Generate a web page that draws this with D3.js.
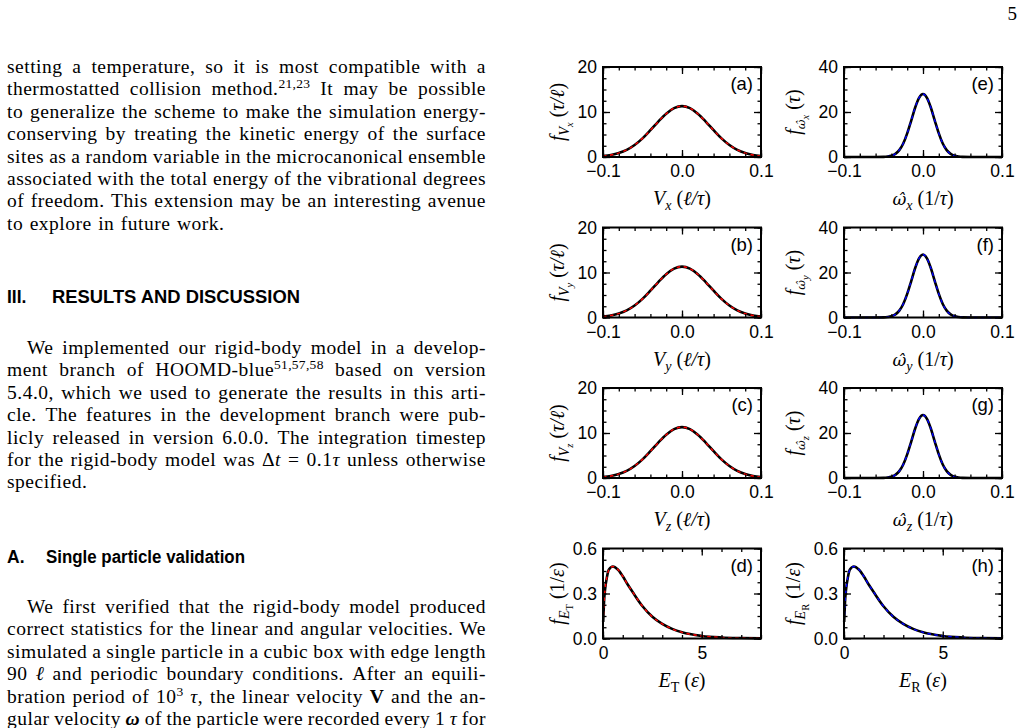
<!DOCTYPE html>
<html>
<head>
<meta charset="utf-8">
<script src="https://cdn.jsdelivr.net/npm/d3@7"></script>
<style>
body { margin: 0; background: #fff; }
svg { display: block; }
</style>
</head>
<body>
<svg id="page" width="1029" height="728"></svg>
<script>
// values
var velGrid = [-0.1, -0.09, -0.08, -0.07, -0.06, -0.05, -0.04, -0.03, -0.02, -0.01, 0,
    0.01, 0.02, 0.03, 0.04, 0.05, 0.06, 0.07, 0.08, 0.09, 0.1]
var linearPdf = [0.2, 0.44, 0.87, 1.58, 2.66, 4.14, 5.95, 7.87, 9.62, 10.86, 11.3,
    10.86, 9.62, 7.87, 5.95, 4.14, 2.66, 1.58, 0.87, 0.44, 0.2]

var omegaGrid = [-0.1, -0.08, -0.06, -0.05, -0.045, -0.04, -0.035, -0.03, -0.025, -0.02, -0.015, -0.01, -0.005, 0,
    0.005, 0.01, 0.015, 0.02, 0.025, 0.03, 0.035, 0.04, 0.045, 0.05, 0.06, 0.08, 0.1]
var angularPdf = [0, 0, 0, 0.06, 0.19, 0.54, 1.37, 3.05, 6.0, 10.5, 16.1, 21.9, 26.3, 28,
    26.3, 21.9, 16.1, 10.5, 6.0, 3.05, 1.37, 0.54, 0.19, 0.06, 0, 0, 0]

var energyGrid = [0.01, 0.05, 0.1, 0.2, 0.3, 0.5, 0.75, 1, 1.25, 1.5, 2, 2.5, 3, 3.5, 4, 5, 6, 7, 8]
var energyPdf = [0.11, 0.24, 0.32, 0.41, 0.46, 0.48, 0.46, 0.415, 0.36, 0.31, 0.215, 0.145, 0.097, 0.064, 0.041, 0.017, 0.007, 0.003, 0.001]

var panelTags = ["(a)", "(b)", "(c)", "(d)", "(e)", "(f)", "(g)", "(h)"]
var linTicksX = [-0.1, 0, 0.1], linTicksY = [0, 10, 20]
var angTicksY = [0, 20, 40]
var enTicksX = [0, 5], enTicksY = [0, 0.3, 0.6]

var para1 = [
    "setting a temperature, so it is most compatible with a",
    "thermostatted collision method.^{21,23} It may be possible",
    "to generalize the scheme to make the simulation energy-",
    "conserving by treating the kinetic energy of the surface",
    "sites as a random variable in the microcanonical ensemble",
    "associated with the total energy of the vibrational degrees",
    "of freedom. This extension may be an interesting avenue",
    "to explore in future work."]
var para2 = [
    "We implemented our rigid-body model in a develop-",
    "ment branch of HOOMD-blue^{51,57,58} based on version",
    "5.4.0, which we used to generate the results in this arti-",
    "cle. The features in the development branch were pub-",
    "licly released in version 6.0.0. The integration timestep",
    "for the rigid-body model was Δ$t$ = 0.1$τ$ unless otherwise",
    "specified."]
var para3 = [
    "We first verified that the rigid-body model produced",
    "correct statistics for the linear and angular velocities. We",
    "simulated a single particle in a cubic box with edge length",
    "90 $ℓ$ and periodic boundary conditions. After an equili-",
    "bration period of 10^{3} $τ$, the linear velocity *V* and the an-",
    "gular velocity ~ω~ of the particle were recorded every 1 $τ$ for"]

var serif = "'Liberation Serif', 'DejaVu Serif', serif"
var sans = "'Liberation Sans', Arial, sans-serif"
var svg = d3.select("#page")

svg.append("text")
    .attr("x", 1017).attr("y", 20)
    .attr("text-anchor", "end")
    .attr("font-family", serif).attr("font-size", 19)
    .text("5")

// ---- body text, justified word by word ----
var left = 7, right = 486, lh = 22.4

function addWord(g, word) {
    var t = g.append("text")
        .attr("font-family", serif).attr("font-size", 19.5)
        .attr("letter-spacing", 0.5)
    var raised = false
    word.split(/(\^\{[^}]*\}|\*[^*]+\*|~[^~]+~|\$[^$]+\$)/).forEach(function (p) {
        if (!p) return
        var s = t.append("tspan")
        if (p[0] == "^") {
            s.text(p.slice(2, -1)).attr("font-size", 13.5).attr("dy", -7).attr("letter-spacing", 0.3)
            raised = true
            return
        }
        if (raised) { s.attr("dy", 7); raised = false }
        if (p[0] == "*") s.text(p.slice(1, -1)).attr("font-weight", "bold")
        else if (p[0] == "~") s.text(p.slice(1, -1)).attr("font-weight", "bold").attr("font-style", "italic")
        else if (p[0] == "$") s.text(p.slice(1, -1)).attr("font-style", "italic")
        else s.text(p)
    })
    return t
}

function paragraph(lines, y0, indent, ends) {
    lines.forEach(function (line, i) {
        var g = svg.append("g")
        var words = line.split(" ").map(function (w) { return addWord(g, w) })
        var widths = words.map(function (t) { return t.node().getComputedTextLength() })
        var x = left + (i == 0 ? indent : 0)
        var gap = (ends && i == lines.length - 1) ? 6.5 : (right - x - d3.sum(widths)) / (words.length - 1)
        words.forEach(function (t, j) {
            t.attr("x", x).attr("y", y0 + i * lh)
            x += widths[j] + gap
        })
    })
}

function heading(num, title, y, x2, len) {
    svg.append("text").attr("x", left).attr("y", y)
        .attr("font-family", sans).attr("font-weight", "bold").attr("font-size", 17.5)
        .text(num)
    svg.append("text").attr("x", x2).attr("y", y)
        .attr("font-family", sans).attr("font-weight", "bold").attr("font-size", 17.5)
        .attr("textLength", len).attr("lengthAdjust", "spacingAndGlyphs")
        .text(title)
}

paragraph(para1, 73, 0, true)
heading("III.", "RESULTS AND DISCUSSION", 303, 52, 248)
paragraph(para2, 354, 20, true)
heading("A.", "Single particle validation", 563, 46, 199)
paragraph(para3, 613, 20, false)

// ---- figure ----
var colX = [603, 844], rowY = [67, 227.5, 388, 548.5], pw = 158, ph = 90

// label pieces: [text, style, level]  (i = italic, r = roman, h = hatted, level 1 = sub, 2 = subsub)
function linY(c) { return [["f", "i", 0], ["V", "i", 1], [c, "i", 2], [" (", "r", 0], ["τ/ℓ", "i", 0], [")", "r", 0]] }
function linX(c) { return [["V", "i", 0], [c, "i", 1], [" (", "r", 0], ["ℓ/τ", "i", 0], [")", "r", 0]] }
function angY(c) { return [["f", "i", 0], ["ω̂", "h", 1], [c, "i", 2], [" (", "r", 0], ["τ", "i", 0], [")", "r", 0]] }
function angX(c) { return [["ω̂", "h", 0], [c, "i", 1], [" (1/", "r", 0], ["τ", "i", 0], [")", "r", 0]] }
function enY(c) { return [["f", "i", 0], ["E", "i", 1], [c, "r", 2], [" (1/", "r", 0], ["ε", "i", 0], [")", "r", 0]] }
function enX(c) { return [["E", "i", 0], [c, "r", 1], [" (", "r", 0], ["ε", "i", 0], [")", "r", 0]] }

var linear = {xs: velGrid, ys: linearPdf, xdom: [-0.1, 0.1], ydom: [0, 20], xt: linTicksX, yt: linTicksY, xm: 0.02, ym: 2.5, xf: ".1f", yf: "d"}
var angular = {xs: omegaGrid, ys: angularPdf, xdom: [-0.1, 0.1], ydom: [0, 40], xt: linTicksX, yt: angTicksY, xm: 0.02, ym: 5, xf: ".1f", yf: "d"}
var energy = {xs: energyGrid, ys: energyPdf, xdom: [0, 8], ydom: [0, 0.6], xt: enTicksX, yt: enTicksY, xm: 1, ym: 0.075, xf: "d", yf: ".1f"}

var panels = [
    Object.assign({col: 0, row: 0, color: "#ff0000", ylab: linY("x"), xlab: linX("x")}, linear),
    Object.assign({col: 0, row: 1, color: "#ff0000", ylab: linY("y"), xlab: linX("y")}, linear),
    Object.assign({col: 0, row: 2, color: "#ff0000", ylab: linY("z"), xlab: linX("z")}, linear),
    Object.assign({col: 0, row: 3, color: "#ff0000", ylab: enY("T"), xlab: enX("T")}, energy),
    Object.assign({col: 1, row: 0, color: "#0000ff", ylab: angY("x"), xlab: angX("x")}, angular),
    Object.assign({col: 1, row: 1, color: "#0000ff", ylab: angY("y"), xlab: angX("y")}, angular),
    Object.assign({col: 1, row: 2, color: "#0000ff", ylab: angY("z"), xlab: angX("z")}, angular),
    Object.assign({col: 1, row: 3, color: "#0000ff", ylab: enY("R"), xlab: enX("R")}, energy)
]

var sizes = [20, 14, 10.5], shifts = [0, 5, 8.5]
function mathLabel(g, pieces) {
    var t = g.append("text").attr("font-family", serif).attr("text-anchor", "middle")
    var cur = 0
    pieces.forEach(function (p) {
        var s = t.append("tspan")
            .attr("font-size", sizes[p[2]])
            .attr("font-style", p[1] == "r" ? "normal" : "italic")
            .attr("dy", shifts[p[2]] - cur)
            .text(p[0])
        if (p[1] == "h") s.attr("font-family", "'DejaVu Serif', serif").attr("font-size", sizes[p[2]] * 0.85)
        cur = shifts[p[2]]
    })
    return t
}

function styleAxis(a) {
    a.select(".domain").remove()
    a.selectAll("line").attr("stroke", "black").attr("stroke-width", 1.3)
    a.attr("font-family", sans).attr("font-size", 17.5)
    a.selectAll("text").attr("fill", "black")
}

panels.forEach(function (p, k) {
    var g = svg.append("g")
        .attr("transform", "translate(" + colX[p.col] + "," + rowY[p.row] + ")")
    var x = d3.scaleLinear().domain(p.xdom).range([0, pw])
    var y = d3.scaleLinear().domain(p.ydom).range([ph, 0])
    var xMinor = d3.range(p.xdom[0], p.xdom[1] + p.xm / 2, p.xm)
    var yMinor = d3.range(p.ydom[0], p.ydom[1] + p.ym / 2, p.ym)

    var line = d3.line()
        .x(function (d, i) { return x(p.xs[i]) })
        .y(function (d) { return y(d) })
        .curve(d3.curveMonotoneX)

    g.append("path").datum(p.ys)
        .attr("d", line)
        .attr("fill", "none")
        .attr("stroke", "black")
        .attr("stroke-width", 2.6)
    g.append("path").datum(p.ys)
        .attr("d", line)
        .attr("fill", "none")
        .attr("stroke", p.color)
        .attr("stroke-width", 1.4)
        .attr("stroke-dasharray", "3.5,3.5")

    var bottom = "translate(0," + ph + ")", rightT = "translate(" + pw + ",0)"
    g.append("g").attr("transform", bottom)
        .call(d3.axisBottom(x).tickValues(xMinor).tickSize(-3.5).tickFormat("")).call(styleAxis)
    g.append("g").attr("transform", bottom)
        .call(d3.axisBottom(x).tickValues(p.xt).tickSize(-7).tickPadding(8).tickFormat(d3.format(p.xf))).call(styleAxis)
    g.append("g")
        .call(d3.axisTop(x).tickValues(xMinor).tickSize(-3.5).tickFormat("")).call(styleAxis)
    g.append("g")
        .call(d3.axisTop(x).tickValues(p.xt).tickSize(-7).tickFormat("")).call(styleAxis)
    g.append("g")
        .call(d3.axisLeft(y).tickValues(yMinor).tickSize(-3.5).tickFormat("")).call(styleAxis)
    g.append("g")
        .call(d3.axisLeft(y).tickValues(p.yt).tickSize(-7).tickPadding(6).tickFormat(d3.format(p.yf))).call(styleAxis)
    g.append("g").attr("transform", rightT)
        .call(d3.axisRight(y).tickValues(yMinor).tickSize(-3.5).tickFormat("")).call(styleAxis)
    g.append("g").attr("transform", rightT)
        .call(d3.axisRight(y).tickValues(p.yt).tickSize(-7).tickFormat("")).call(styleAxis)

    g.append("rect")
        .attr("width", pw).attr("height", ph)
        .attr("fill", "none")
        .attr("stroke", "black")
        .attr("stroke-width", 2)

    g.append("text")
        .attr("x", pw - 8).attr("y", 23)
        .attr("text-anchor", "end")
        .attr("font-family", sans).attr("font-size", 18.5)
        .text(panelTags[k])

    mathLabel(g, p.xlab).attr("x", pw / 2).attr("y", ph + 48)
    mathLabel(g, p.ylab)
        .attr("transform", "translate(" + (p.col == 0 ? -39 : -44) + "," + ph / 2 + ") rotate(-90)")
})
</script>
</body>
</html>
